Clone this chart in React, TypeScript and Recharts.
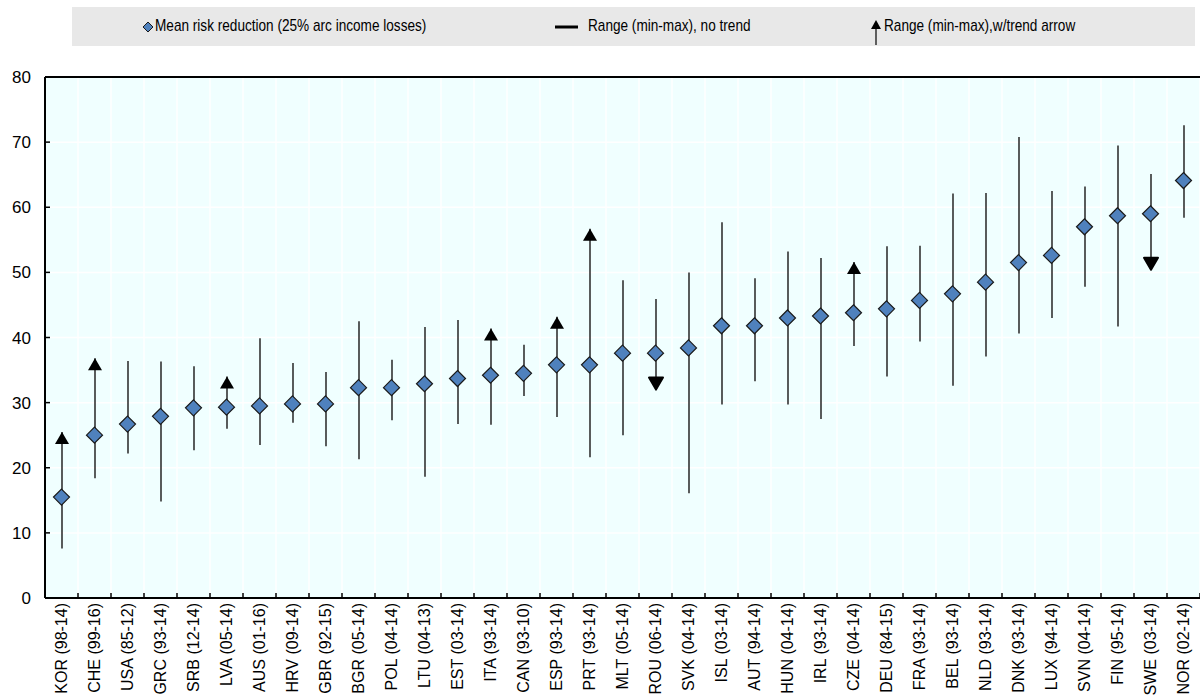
import React from 'react';
import {
  ComposedChart,
  Bar,
  Line,
  XAxis,
  YAxis,
  CartesianGrid,
  ReferenceLine,
} from 'recharts';

// Countries (with the period covered), sorted by mean risk reduction
const countries = [
  'KOR (98-14)', 'CHE (99-16)', 'USA (85-12)', 'GRC (93-14)', 'SRB (12-14)',
  'LVA (05-14)', 'AUS (01-16)', 'HRV (09-14)', 'GBR (92-15)', 'BGR (05-14)',
  'POL (04-14)', 'LTU (04-13)', 'EST (03-14)', 'ITA (93-14)', 'CAN (93-10)',
  'ESP (93-14)', 'PRT (93-14)', 'MLT (05-14)', 'ROU (06-14)', 'SVK (04-14)',
  'ISL (03-14)', 'AUT (94-14)', 'HUN (04-14)', 'IRL (93-14)', 'CZE (04-14)',
  'DEU (84-15)', 'FRA (93-14)', 'BEL (93-14)', 'NLD (93-14)', 'DNK (93-14)',
  'LUX (94-14)', 'SVN (04-14)', 'FIN (95-14)', 'SWE (03-14)', 'NOR (02-14)',
];

const means = [
  15.5, 25.0, 26.7, 27.9, 29.2, 29.3, 29.5, 29.8, 29.8, 32.3,
  32.3, 32.9, 33.7, 34.2, 34.5, 35.8, 35.8, 37.6, 37.6, 38.4,
  41.8, 41.8, 43.0, 43.3, 43.8, 44.4, 45.7, 46.7, 48.5, 51.5,
  52.6, 57.0, 58.7, 59.0, 64.1,
];

const mins = [
  7.6, 18.4, 22.2, 14.8, 22.7, 26.0, 23.5, 26.9, 23.3, 21.3,
  27.3, 18.6, 26.7, 26.6, 31.0, 27.8, 21.6, 25.0, 32.0, 16.1,
  29.7, 33.3, 29.7, 27.5, 38.7, 34.0, 39.4, 32.6, 37.1, 40.6,
  43.0, 47.8, 41.7, 50.4, 58.4,
];

const maxs = [
  25.5, 36.8, 36.4, 36.3, 35.6, 34.0, 39.9, 36.1, 34.7, 42.5,
  36.6, 41.6, 42.7, 41.4, 38.9, 43.2, 56.7, 48.8, 45.9, 50.0,
  57.7, 49.1, 53.2, 52.2, 51.6, 54.0, 54.1, 62.1, 62.2, 70.8,
  62.5, 63.2, 69.5, 65.1, 72.6,
];

// trend arrow: 'up' at the max end, 'down' at the min end
const trends = [
  'up', 'up', '', '', '', 'up', '', '', '', '',
  '', '', '', 'up', '', 'up', 'up', '', 'down', '',
  '', '', '', '', 'up', '', '', '', '', '',
  '', '', '', 'down', '',
];

const yTicks = [0, 10, 20, 30, 40, 50, 60, 70, 80];

const data = countries.map((name, i) => ({
  name,
  mean: means[i],
  min: mins[i],
  max: maxs[i],
  trend: trends[i],
}));

const FONT = '"Liberation Sans", Arial, sans-serif';
const BLUE = '#4F81BD';

const Diamond = (props: any) => {
  const { cx, cy } = props;
  if (cx == null || cy == null) return null;
  const r = 8;
  return (
    <polygon
      points={`${cx},${cy - r} ${cx + r},${cy} ${cx},${cy + r} ${cx - r},${cy}`}
      fill={BLUE}
      stroke="#1a1a1a"
      strokeWidth={1.2}
    />
  );
};

const RangeShape = (props: any) => {
  const { x, y, width, height, payload } = props;
  const cx = x + width / 2;
  const top = y;
  const bottom = y + height;
  const w = 7;
  const h = 12;
  return (
    <g>
      <line x1={cx} x2={cx} y1={top} y2={bottom} stroke="#333" strokeWidth={1.6} />
      {payload.trend === 'up' && (
        <polygon points={`${cx},${top} ${cx - w},${top + h} ${cx + w},${top + h}`} fill="#000" />
      )}
      {payload.trend === 'down' && (
        <polygon
          points={`${cx},${bottom} ${cx - w},${bottom - h} ${cx + w},${bottom - h}`}
          fill="#000"
          stroke="#000"
          strokeLinejoin="round"
          strokeWidth={2}
        />
      )}
    </g>
  );
};

const CountryTick = (props: any) => {
  const { x, y, payload, index } = props;
  const half = payload.offset ?? 16.5;
  const ty = y + 5;
  return (
    <g>
      <line x1={x - half} x2={x - half} y1={y} y2={y - 5} stroke="#000" strokeWidth={1.5} />
      {index === countries.length - 1 && (
        <line x1={x + half} x2={x + half} y1={y} y2={y - 5} stroke="#000" strokeWidth={1.5} />
      )}
      <text
        x={x}
        y={ty}
        transform={`rotate(-90, ${x}, ${ty})`}
        textAnchor="end"
        dominantBaseline="central"
        fontSize={16}
        fontFamily={FONT}
        fill="#000"
      >
        {payload.value}
      </text>
    </g>
  );
};

const legendText = (left: number): React.CSSProperties => ({
  position: 'absolute',
  left,
  top: 9,
  fontFamily: FONT,
  fontSize: 17,
  color: '#000',
  whiteSpace: 'nowrap',
  transform: 'scaleX(0.8)',
  transformOrigin: 'left center',
});

const Legend = () => (
  <div
    style={{
      position: 'absolute',
      left: 72,
      top: 7,
      width: 1123,
      height: 39,
      background: '#E8E8E8',
    }}
  >
    <svg width={1123} height={45} style={{ position: 'absolute', left: 0, top: 0, overflow: 'visible' }}>
      <polygon points="76,15 81,20 76,25 71,20" fill={BLUE} stroke="#1a1a1a" strokeWidth={1} />
      <line x1={483} x2={506} y1={20} y2={20} stroke="#000" strokeWidth={3} />
      <polygon points="804,13 809,22 799,22" fill="#000" />
      <line x1={804} x2={804} y1={22} y2={38} stroke="#000" strokeWidth={1.2} />
    </svg>
    <span style={legendText(83)}>Mean risk reduction (25% arc income losses)</span>
    <span style={legendText(516)}>Range (min-max), no trend</span>
    <span style={legendText(812)}>Range (min-max),w/trend arrow</span>
  </div>
);

export default function App() {
  return (
    <div style={{ position: 'relative', width: 1200, height: 696, background: '#fff', overflow: 'hidden' }}>
      <style>{'body{margin:0}'}</style>
      <Legend />
      <ComposedChart
        width={1200}
        height={696}
        data={data}
        margin={{ top: 77, right: 0, bottom: 0, left: 0 }}
      >
        <CartesianGrid
          fill="#F0FFFF"
          stroke="#fff"
          strokeWidth={1.5}
          verticalCoordinatesGenerator={({ offset }: any) =>
            [...countries, ''].map((_, i) => offset.left + (i * offset.width) / countries.length)
          }
        />
        <XAxis
          dataKey="name"
          interval={0}
          height={98}
          tickSize={0}
          tickMargin={0}
          tickLine={false}
          axisLine={{ stroke: '#000', strokeWidth: 2 }}
          tick={<CountryTick />}
        />
        <YAxis
          domain={[0, 80]}
          ticks={yTicks}
          interval={0}
          width={45}
          tickSize={-5}
          tickMargin={19}
          axisLine={{ stroke: '#000', strokeWidth: 2 }}
          tickLine={{ stroke: '#000', strokeWidth: 1.5 }}
          tick={{ fill: '#000', fontSize: 17, fontFamily: FONT }}
        />
        <ReferenceLine y={80} stroke="#000" strokeWidth={2} />
        <Bar
          dataKey={(d: any) => [d.min, d.max]}
          shape={<RangeShape />}
          barSize={10}
          isAnimationActive={false}
        />
        <Line
          dataKey="mean"
          stroke="none"
          dot={<Diamond />}
          activeDot={false}
          isAnimationActive={false}
        />
      </ComposedChart>
    </div>
  );
}
